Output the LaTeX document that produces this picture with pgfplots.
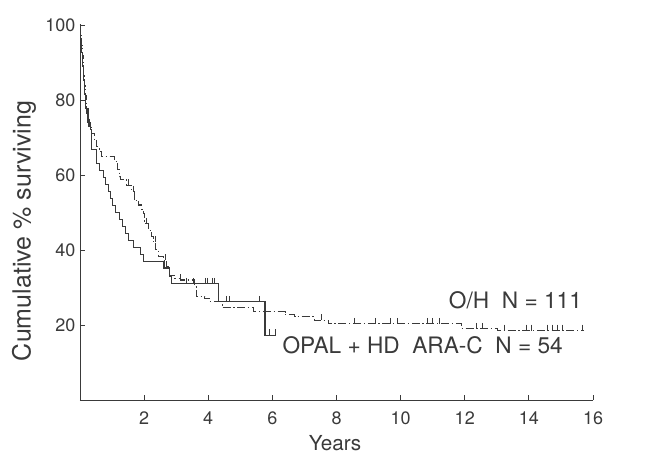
\documentclass[border=0pt]{standalone}
\usepackage{fontspec}
\setmainfont{TeX Gyre Heros}
\usepackage{pgfplots}
\pgfplotsset{compat=1.18}
\definecolor{ink}{HTML}{3A3A3A}

\begin{document}
\begin{tikzpicture}
\useasboundingbox (-60pt,-41.25pt) rectangle (426pt,300pt);
\begin{axis}[
  at={(0,0)}, anchor=south west,
  scale only axis, width=384.75pt, height=281.25pt,
  xmin=0, xmax=16, ymin=0, ymax=100,
  axis lines*=left,
  axis line style={ink, line width=0.7pt},
  tick align=inside, major tick length=4pt,
  tick style={ink, line width=0.7pt},
  xtick={2,4,...,16}, ytick={20,40,...,100},
  ticklabel style={font=\fontsize{13.5}{16}\selectfont, text=ink},
  /pgf/number format/assume math mode=true,
  xticklabel style={yshift=-5pt},
  clip=false,
]
% OPAL + HD ARA-C, N = 54 (solid)
\addplot[const plot, ink, line width=0.8pt] coordinates {
  (0,100)(0.03,96.3)(0.06,92.6)(0.09,88.9)(0.12,85.2)(0.15,81.5)(0.18,77.8)
  (0.25,74.1)(0.32,72.2)(0.36,66.7)(0.52,63.0)(0.60,61.1)(0.74,59.3)(0.80,57.4)
  (0.88,55.6)(0.94,53.7)(1.00,51.9)(1.12,50.0)(1.22,48.1)(1.34,46.3)(1.42,44.4)
  (1.52,42.6)(1.66,40.7)(1.88,38.9)(1.97,37.0)(2.62,35.2)(2.80,33.0)(2.85,31.0)
  (4.33,26.2)(5.77,17.3)(6.10,17.3)
};
% O/H, N = 111 (dash-dot)
\addplot[const plot, ink, line width=0.8pt, dash pattern=on 6pt off 2pt on 1pt off 2pt] coordinates {
  (0,100)(0.02,97.3)(0.04,94.6)(0.07,91.9)(0.10,89.2)(0.12,86.5)(0.14,83.8)
  (0.17,81.1)(0.19,78.4)(0.21,75.7)(0.28,73.0)(0.36,71.0)(0.44,69.4)(0.52,67.6)
  (0.60,66.2)(0.68,64.9)(1.08,63.6)(1.18,61.5)(1.22,59.5)(1.25,58.7)(1.45,57.3)
  (1.62,55.5)(1.71,53.3)(1.82,52.0)(1.92,50.8)(1.97,49.8)(2.02,47.0)(2.13,45.3)
  (2.22,43.5)(2.28,42.2)(2.36,40.2)(2.44,38.2)(2.59,37.3)(2.70,35.6)(2.80,33.3)
  (2.96,32.4)(3.12,32.0)(3.58,30.2)(3.63,27.6)(3.89,27.1)(4.05,26.2)(4.43,24.6)
  (5.40,23.6)(6.40,22.7)(6.70,22.2)(7.30,21.3)(7.74,20.3)(11.89,19.0)(13.03,18.5)
  (15.73,18.5)
};
% censored observations
\addplot[only marks, mark=|, mark size=2.25pt, ink, line width=0.7pt,
  every mark/.append style={yshift=2.25pt}] coordinates {
  (3.32,31.0)(3.55,31.0)(3.90,31.0)(3.98,31.0)(4.12,31.0)(4.20,31.0)
  (4.57,26.2)(4.67,26.2)(5.59,26.2)(5.90,17.3)(6.10,17.3)
};
\addplot[only marks, mark=|, mark size=2.25pt, ink, line width=0.7pt,
  every mark/.append style={yshift=2.25pt}] coordinates {
  (1.50,57.3)(1.68,55.5)(1.71,53.3)(2.08,47.0)(2.34,42.2)(2.65,37.3)(3.12,32.0)
  (7.53,21.3)(8.57,20.3)(9.22,20.3)(9.68,20.3)(9.90,20.3)(10.85,20.3)(11.00,20.3)
  (11.21,20.3)(12.36,19.0)(12.56,19.0)(13.24,18.5)(13.92,18.5)(14.07,18.5)
  (14.59,18.5)(14.74,18.5)(14.90,18.5)(15.06,18.5)(15.68,18.5)
};
\node[anchor=base east, font=\fontsize{17}{20}\selectfont, text=ink]
  at (axis cs:15.8,24.5) {O/H\ \ N = 111};
\node[anchor=base west, font=\fontsize{17}{20}\selectfont, text=ink]
  at (axis cs:6.17,12.5) {OPAL + HD\ \ ARA-C\ \ N = 54};
\end{axis}
\node[rotate=90, font=\fontsize{18.75}{22}\selectfont, text=ink]
  at (-42pt,126.75pt) {Cumulative \% surviving};
\node[anchor=base, font=\fontsize{15.5}{18}\selectfont, text=ink]
  at (191.25pt,-37.5pt) {Years};
\end{tikzpicture}
\end{document}
